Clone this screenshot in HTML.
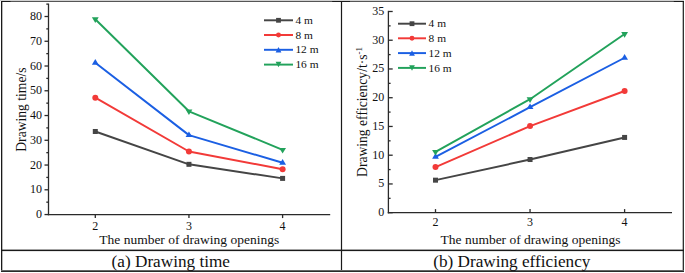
<!DOCTYPE html>
<html><head><meta charset="utf-8"><style>
html,body{margin:0;padding:0;background:#fff;overflow:hidden;width:685px;height:273px;}
svg{display:block;font-family:"Liberation Serif", serif;}
text{fill:#111;}
</style></head><body>
<svg width="685" height="273" viewBox="0 0 685 273">
<line x1="48.5" y1="3.62" x2="48.5" y2="215.25" stroke="#2a2a2a" stroke-width="1.3"/>
<line x1="47.85" y1="214.6" x2="330.2" y2="214.6" stroke="#2a2a2a" stroke-width="1.3"/>
<line x1="44.50" y1="214.55" x2="48.5" y2="214.55" stroke="#2a2a2a" stroke-width="1.3"/>
<text x="42.1" y="218.25" font-size="12" text-anchor="end">0</text>
<line x1="46.30" y1="202.17" x2="48.5" y2="202.17" stroke="#2a2a2a" stroke-width="1.3"/>
<line x1="44.50" y1="189.79" x2="48.5" y2="189.79" stroke="#2a2a2a" stroke-width="1.3"/>
<text x="42.1" y="193.49" font-size="12" text-anchor="end">10</text>
<line x1="46.30" y1="177.42" x2="48.5" y2="177.42" stroke="#2a2a2a" stroke-width="1.3"/>
<line x1="44.50" y1="165.04" x2="48.5" y2="165.04" stroke="#2a2a2a" stroke-width="1.3"/>
<text x="42.1" y="168.74" font-size="12" text-anchor="end">20</text>
<line x1="46.30" y1="152.66" x2="48.5" y2="152.66" stroke="#2a2a2a" stroke-width="1.3"/>
<line x1="44.50" y1="140.28" x2="48.5" y2="140.28" stroke="#2a2a2a" stroke-width="1.3"/>
<text x="42.1" y="143.98" font-size="12" text-anchor="end">30</text>
<line x1="46.30" y1="127.90" x2="48.5" y2="127.90" stroke="#2a2a2a" stroke-width="1.3"/>
<line x1="44.50" y1="115.53" x2="48.5" y2="115.53" stroke="#2a2a2a" stroke-width="1.3"/>
<text x="42.1" y="119.23" font-size="12" text-anchor="end">40</text>
<line x1="46.30" y1="103.15" x2="48.5" y2="103.15" stroke="#2a2a2a" stroke-width="1.3"/>
<line x1="44.50" y1="90.77" x2="48.5" y2="90.77" stroke="#2a2a2a" stroke-width="1.3"/>
<text x="42.1" y="94.47" font-size="12" text-anchor="end">50</text>
<line x1="46.30" y1="78.39" x2="48.5" y2="78.39" stroke="#2a2a2a" stroke-width="1.3"/>
<line x1="44.50" y1="66.01" x2="48.5" y2="66.01" stroke="#2a2a2a" stroke-width="1.3"/>
<text x="42.1" y="69.71" font-size="12" text-anchor="end">60</text>
<line x1="46.30" y1="53.64" x2="48.5" y2="53.64" stroke="#2a2a2a" stroke-width="1.3"/>
<line x1="44.50" y1="41.26" x2="48.5" y2="41.26" stroke="#2a2a2a" stroke-width="1.3"/>
<text x="42.1" y="44.96" font-size="12" text-anchor="end">70</text>
<line x1="46.30" y1="28.88" x2="48.5" y2="28.88" stroke="#2a2a2a" stroke-width="1.3"/>
<line x1="44.50" y1="16.50" x2="48.5" y2="16.50" stroke="#2a2a2a" stroke-width="1.3"/>
<text x="42.1" y="20.20" font-size="12" text-anchor="end">80</text>
<line x1="46.30" y1="4.12" x2="48.5" y2="4.12" stroke="#2a2a2a" stroke-width="1.3"/>
<line x1="95.30" y1="214.6" x2="95.30" y2="218.1" stroke="#2a2a2a" stroke-width="1.3"/>
<text x="95.30" y="229.6" font-size="12" text-anchor="middle">2</text>
<line x1="188.95" y1="214.6" x2="188.95" y2="218.1" stroke="#2a2a2a" stroke-width="1.3"/>
<text x="188.95" y="229.6" font-size="12" text-anchor="middle">3</text>
<line x1="282.60" y1="214.6" x2="282.60" y2="218.1" stroke="#2a2a2a" stroke-width="1.3"/>
<text x="282.60" y="229.6" font-size="12" text-anchor="middle">4</text>
<text x="189.25" y="243.8" font-size="13.5" text-anchor="middle">The number of drawing openings</text>
<text transform="translate(25.8 109.6) rotate(-90)" font-size="13.6" text-anchor="middle">Drawing time/s</text>
<path d="M95.30 131.49 L188.95 164.33 L282.60 178.40" fill="none" stroke="#454545" stroke-width="1.95" stroke-linejoin="round"/>
<rect x="92.80" y="128.99" width="5.00" height="5.00" fill="#454545"/>
<rect x="186.45" y="161.83" width="5.00" height="5.00" fill="#454545"/>
<rect x="280.10" y="175.90" width="5.00" height="5.00" fill="#454545"/>
<path d="M95.30 97.66 L188.95 151.49 L282.60 169.26" fill="none" stroke="#f23a38" stroke-width="1.95" stroke-linejoin="round"/>
<circle cx="95.30" cy="97.66" r="3.00" fill="#f23a38"/>
<circle cx="188.95" cy="151.49" r="3.00" fill="#f23a38"/>
<circle cx="282.60" cy="169.26" r="3.00" fill="#f23a38"/>
<path d="M95.30 62.80 L188.95 135.14 L282.60 162.79" fill="none" stroke="#1b5fe3" stroke-width="1.95" stroke-linejoin="round"/>
<path d="M95.30 59.06L98.70 64.66L91.90 64.66Z" fill="#1b5fe3"/>
<path d="M188.95 131.40L192.35 137.00L185.55 137.00Z" fill="#1b5fe3"/>
<path d="M282.60 159.06L286.00 164.66L279.20 164.66Z" fill="#1b5fe3"/>
<path d="M95.30 19.20 L188.95 111.30 L282.60 149.81" fill="none" stroke="#22a25b" stroke-width="1.95" stroke-linejoin="round"/>
<path d="M91.90 17.34L98.70 17.34L95.30 22.94Z" fill="#22a25b"/>
<path d="M185.55 109.43L192.35 109.43L188.95 115.03Z" fill="#22a25b"/>
<path d="M279.20 147.95L286.00 147.95L282.60 153.55Z" fill="#22a25b"/>
<line x1="264" y1="20.3" x2="293" y2="20.3" stroke="#454545" stroke-width="1.95"/>
<rect x="276.10" y="17.90" width="4.80" height="4.80" fill="#454545"/>
<text x="295.4" y="23.90" font-size="11.4">4 m</text>
<line x1="264" y1="35.0" x2="293" y2="35.0" stroke="#f23a38" stroke-width="1.95"/>
<circle cx="278.50" cy="35.00" r="2.46" fill="#f23a38"/>
<text x="295.4" y="38.60" font-size="11.4">8 m</text>
<line x1="264" y1="49.8" x2="293" y2="49.8" stroke="#1b5fe3" stroke-width="1.95"/>
<path d="M278.50 47.05L281.40 52.55L275.60 52.55Z" fill="#1b5fe3"/>
<text x="295.4" y="53.40" font-size="11.4">12 m</text>
<line x1="264" y1="64.6" x2="293" y2="64.6" stroke="#22a25b" stroke-width="1.95"/>
<path d="M275.60 61.85L281.40 61.85L278.50 67.35Z" fill="#22a25b"/>
<text x="295.4" y="68.20" font-size="11.4">16 m</text>
<line x1="388.4" y1="10.84" x2="388.4" y2="213.35" stroke="#2a2a2a" stroke-width="1.3"/>
<line x1="387.75" y1="212.7" x2="672" y2="212.7" stroke="#2a2a2a" stroke-width="1.3"/>
<line x1="388.4" y1="212.70" x2="392.70" y2="212.70" stroke="#2a2a2a" stroke-width="1.3"/>
<text x="384.2" y="216.20" font-size="12" text-anchor="end">0</text>
<line x1="388.4" y1="198.33" x2="390.60" y2="198.33" stroke="#2a2a2a" stroke-width="1.3"/>
<line x1="388.4" y1="183.95" x2="392.70" y2="183.95" stroke="#2a2a2a" stroke-width="1.3"/>
<text x="384.2" y="187.45" font-size="12" text-anchor="end">5</text>
<line x1="388.4" y1="169.58" x2="390.60" y2="169.58" stroke="#2a2a2a" stroke-width="1.3"/>
<line x1="388.4" y1="155.21" x2="392.70" y2="155.21" stroke="#2a2a2a" stroke-width="1.3"/>
<text x="384.2" y="158.71" font-size="12" text-anchor="end">10</text>
<line x1="388.4" y1="140.84" x2="390.60" y2="140.84" stroke="#2a2a2a" stroke-width="1.3"/>
<line x1="388.4" y1="126.46" x2="392.70" y2="126.46" stroke="#2a2a2a" stroke-width="1.3"/>
<text x="384.2" y="129.96" font-size="12" text-anchor="end">15</text>
<line x1="388.4" y1="112.09" x2="390.60" y2="112.09" stroke="#2a2a2a" stroke-width="1.3"/>
<line x1="388.4" y1="97.72" x2="392.70" y2="97.72" stroke="#2a2a2a" stroke-width="1.3"/>
<text x="384.2" y="101.22" font-size="12" text-anchor="end">20</text>
<line x1="388.4" y1="83.35" x2="390.60" y2="83.35" stroke="#2a2a2a" stroke-width="1.3"/>
<line x1="388.4" y1="68.97" x2="392.70" y2="68.97" stroke="#2a2a2a" stroke-width="1.3"/>
<text x="384.2" y="72.47" font-size="12" text-anchor="end">25</text>
<line x1="388.4" y1="54.60" x2="390.60" y2="54.60" stroke="#2a2a2a" stroke-width="1.3"/>
<line x1="388.4" y1="40.23" x2="392.70" y2="40.23" stroke="#2a2a2a" stroke-width="1.3"/>
<text x="384.2" y="43.73" font-size="12" text-anchor="end">30</text>
<line x1="388.4" y1="25.86" x2="390.60" y2="25.86" stroke="#2a2a2a" stroke-width="1.3"/>
<line x1="388.4" y1="11.49" x2="392.70" y2="11.49" stroke="#2a2a2a" stroke-width="1.3"/>
<text x="384.2" y="14.99" font-size="12" text-anchor="end">35</text>
<line x1="435.50" y1="212.7" x2="435.50" y2="209.1" stroke="#2a2a2a" stroke-width="1.3"/>
<text x="435.50" y="226" font-size="12" text-anchor="middle">2</text>
<line x1="530.05" y1="212.7" x2="530.05" y2="209.1" stroke="#2a2a2a" stroke-width="1.3"/>
<text x="530.05" y="226" font-size="12" text-anchor="middle">3</text>
<line x1="624.60" y1="212.7" x2="624.60" y2="209.1" stroke="#2a2a2a" stroke-width="1.3"/>
<text x="624.60" y="226" font-size="12" text-anchor="middle">4</text>
<text x="530.5" y="243.8" font-size="13.5" text-anchor="middle">The number of drawing openings</text>
<text transform="translate(367.4 176.9) rotate(-90)" font-size="13.6">Drawing efficiency/t·s<tspan font-size="9" dy="-5.5">-1</tspan></text>
<path d="M435.50 180.17 L530.05 159.52 L624.60 137.43" fill="none" stroke="#454545" stroke-width="1.95" stroke-linejoin="round"/>
<rect x="433.00" y="177.67" width="5.00" height="5.00" fill="#454545"/>
<rect x="527.55" y="157.02" width="5.00" height="5.00" fill="#454545"/>
<rect x="622.10" y="134.93" width="5.00" height="5.00" fill="#454545"/>
<path d="M435.50 167.09 L530.05 126.07 L624.60 91.02" fill="none" stroke="#f23a38" stroke-width="1.95" stroke-linejoin="round"/>
<circle cx="435.50" cy="167.09" r="3.00" fill="#f23a38"/>
<circle cx="530.05" cy="126.07" r="3.00" fill="#f23a38"/>
<circle cx="624.60" cy="91.02" r="3.00" fill="#f23a38"/>
<path d="M435.50 156.84 L530.05 107.21 L624.60 57.76" fill="none" stroke="#1b5fe3" stroke-width="1.95" stroke-linejoin="round"/>
<path d="M435.50 153.11L438.90 158.71L432.10 158.71Z" fill="#1b5fe3"/>
<path d="M530.05 103.48L533.45 109.08L526.65 109.08Z" fill="#1b5fe3"/>
<path d="M624.60 54.03L628.00 59.63L621.20 59.63Z" fill="#1b5fe3"/>
<path d="M435.50 151.82 L530.05 99.21 L624.60 33.98" fill="none" stroke="#22a25b" stroke-width="1.95" stroke-linejoin="round"/>
<path d="M432.10 149.95L438.90 149.95L435.50 155.55Z" fill="#22a25b"/>
<path d="M526.65 97.34L533.45 97.34L530.05 102.94Z" fill="#22a25b"/>
<path d="M621.20 32.11L628.00 32.11L624.60 37.71Z" fill="#22a25b"/>
<line x1="398" y1="23.7" x2="426" y2="23.7" stroke="#454545" stroke-width="1.95"/>
<rect x="409.60" y="21.30" width="4.80" height="4.80" fill="#454545"/>
<text x="428.6" y="27.30" font-size="11.4">4 m</text>
<line x1="398" y1="38.3" x2="426" y2="38.3" stroke="#f23a38" stroke-width="1.95"/>
<circle cx="412.00" cy="38.30" r="2.46" fill="#f23a38"/>
<text x="428.6" y="41.90" font-size="11.4">8 m</text>
<line x1="398" y1="53.1" x2="426" y2="53.1" stroke="#1b5fe3" stroke-width="1.95"/>
<path d="M412.00 50.35L414.90 55.85L409.10 55.85Z" fill="#1b5fe3"/>
<text x="428.6" y="56.70" font-size="11.4">12 m</text>
<line x1="398" y1="67.9" x2="426" y2="67.9" stroke="#22a25b" stroke-width="1.95"/>
<path d="M409.10 65.15L414.90 65.15L412.00 70.65Z" fill="#22a25b"/>
<text x="428.6" y="71.50" font-size="11.4">16 m</text>
<rect x="0" y="0" width="684" height="1" fill="#d2d2d2"/>
<rect x="1" y="1" width="683" height="1" fill="#555"/>
<rect x="1" y="1" width="9.5" height="1" fill="#1a1a1a"/>
<rect x="332.2" y="1" width="17.8" height="1" fill="#1a1a1a"/>
<rect x="673.8" y="1" width="10.2" height="1" fill="#1a1a1a"/>
<rect x="1" y="1" width="1.3" height="271" fill="#1a1a1a"/>
<rect x="682.7" y="1" width="1.2" height="271" fill="#1a1a1a"/>
<rect x="340.9" y="1" width="1.2" height="270" fill="#1a1a1a"/>
<rect x="1" y="249.6" width="683" height="1.5" fill="#1a1a1a"/>
<rect x="1" y="270" width="683" height="1" fill="#666"/>
<rect x="1" y="271" width="683" height="1" fill="#2a2a2a"/>
<text x="170.8" y="266.9" font-size="17.2" text-anchor="middle">(a) Drawing time</text>
<text x="511.8" y="266.9" font-size="17.2" text-anchor="middle">(b) Drawing efficiency</text>
</svg>
</body></html>
